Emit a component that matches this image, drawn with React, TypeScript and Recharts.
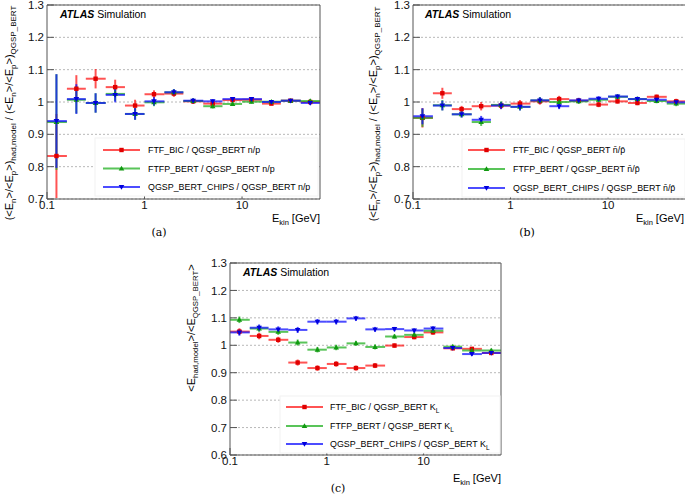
import React from 'react';
import { ScatterChart, Scatter, XAxis, YAxis, CartesianGrid, ErrorBar } from 'recharts';

// ---------- data ----------
const binCenters = [0.125, 0.2, 0.315, 0.5, 0.8, 1.25, 2, 3.15, 5, 8, 12.5, 20, 31.5, 50];
const binLow = [0.1, 0.16, 0.25, 0.4, 0.63, 1, 1.6, 2.5, 4, 6.3, 10, 16, 25, 40];
const binHigh = [0.16, 0.25, 0.4, 0.63, 1, 1.6, 2.5, 4, 6.3, 10, 16, 25, 40, 63];

const xMajorTicks = [0.1, 1, 10];
const xMinorTicks = [0.2, 0.3, 0.4, 0.5, 0.6, 0.7, 0.8, 0.9, 2, 3, 4, 5, 6, 7, 8, 9, 20, 30, 40, 50, 60];
const yTicksAB = [0.7, 0.8, 0.9, 1, 1.1, 1.2, 1.3];
const yTicksC = [0.6, 0.7, 0.8, 0.9, 1, 1.1, 1.2, 1.3];

// panel (a): n/p
const aFtfBic = [0.833, 1.041, 1.072, 1.046, 0.989, 1.024, 1.026, 1.002, 0.995, 1.006, 1.007, 0.995, 1.004, 1.0];
const aFtfBicErr = [0.13, 0.042, 0.03, 0.023, 0.018, 0.012, 0.01, 0.008, 0.007, 0.006, 0.006, 0.005, 0.005, 0.005];
const aFtfp = [0.938, 1.007, 0.997, 1.025, 0.963, 0.999, 1.03, 1.003, 0.987, 0.994, 1.001, 1.001, 1.004, 1.003];
const aFtfpErr = [0.148, 0.042, 0.03, 0.022, 0.018, 0.012, 0.01, 0.008, 0.007, 0.006, 0.006, 0.005, 0.005, 0.006];
const aChips = [0.941, 1.009, 0.997, 1.022, 0.963, 1.002, 1.03, 1.004, 1.002, 1.009, 1.009, 1.0, 1.004, 0.997];
const aChipsErr = [0.145, 0.046, 0.03, 0.023, 0.018, 0.013, 0.01, 0.008, 0.007, 0.006, 0.006, 0.005, 0.005, 0.006];

// panel (b): nbar/pbar
const bFtfBic = [0.951, 1.027, 0.978, 0.987, 0.989, 0.995, 1.002, 1.009, 1.004, 0.992, 1.002, 0.997, 1.016, 1.002];
const bFtfBicErr = [0.03, 0.017, 0.01, 0.013, 0.011, 0.011, 0.01, 0.01, 0.008, 0.008, 0.007, 0.007, 0.007, 0.008];
const bFtfp = [0.951, 0.99, 0.962, 0.938, 0.991, 0.985, 1.005, 1.0, 1.002, 1.007, 1.016, 1.009, 1.003, 0.995];
const bFtfpErr = [0.028, 0.016, 0.01, 0.012, 0.011, 0.011, 0.01, 0.01, 0.008, 0.008, 0.007, 0.007, 0.007, 0.008];
const bChips = [0.956, 0.989, 0.962, 0.945, 0.989, 0.985, 1.005, 0.987, 1.005, 1.01, 1.017, 1.009, 1.007, 0.999];
const bChipsErr = [0.025, 0.015, 0.01, 0.012, 0.011, 0.011, 0.01, 0.009, 0.008, 0.008, 0.007, 0.007, 0.007, 0.008];

// panel (c): K_L
const cFtfBic = [1.05, 1.034, 1.02, 0.937, 0.917, 0.932, 0.917, 0.926, 0.999, 1.03, 1.047, 0.989, 0.987, 0.972];
const cFtfp = [1.093, 1.061, 1.049, 1.01, 0.984, 0.992, 1.007, 0.994, 1.032, 1.038, 1.053, 0.995, 0.981, 0.981];
const cChips = [1.047, 1.064, 1.058, 1.056, 1.086, 1.086, 1.098, 1.058, 1.059, 1.054, 1.061, 0.99, 0.968, 0.972];
const cErr = [0.012, 0.012, 0.011, 0.011, 0.01, 0.01, 0.009, 0.009, 0.008, 0.008, 0.008, 0.007, 0.007, 0.007];

const namesNP = ['FTF_BIC / QGSP_BERT n/p', 'FTFP_BERT / QGSP_BERT n/p', 'QGSP_BERT_CHIPS / QGSP_BERT n/p'];
const namesNbPb = ['FTF_BIC / QGSP_BERT n\u0304/p\u0304', 'FTFP_BERT / QGSP_BERT n\u0304/p\u0304', 'QGSP_BERT_CHIPS / QGSP_BERT n\u0304/p\u0304'];
const namesKL = ['FTF_BIC / QGSP_BERT K', 'FTFP_BERT / QGSP_BERT K', 'QGSP_BERT_CHIPS / QGSP_BERT K'];

const colors = ['#ff1a1a', '#22b022', '#1010ff'];
const markerColors = ['#e00000', '#119911', '#0000dd'];
const FRAME = '#555';
const FONT = '"Liberation Sans", Arial, Helvetica, sans-serif';

const minorTicks = (lo: number, hi: number) => {
  const n = Math.round((hi - lo) / 0.02);
  return Array.from({ length: n + 1 }, (_, i) => +(lo + i * 0.02).toFixed(2));
};

const buildRows = (vals: number[], errs: number[]) =>
  binCenters.map((x, i) => ({
    x,
    y: vals[i],
    ex: [x - binLow[i], binHigh[i] - x],
    ey: errs[i],
  }));

const shapes = [
  (c: string) => (p: any) => <rect x={p.cx - 2.2} y={p.cy - 2.2} width={4.4} height={4.4} fill={c} />,
  (c: string) => (p: any) => (
    <polygon points={`${p.cx},${p.cy - 2.8} ${p.cx + 2.8},${p.cy + 2} ${p.cx - 2.8},${p.cy + 2}`} fill={c} />
  ),
  (c: string) => (p: any) => (
    <polygon points={`${p.cx},${p.cy + 2.8} ${p.cx + 2.8},${p.cy - 2} ${p.cx - 2.8},${p.cy - 2}`} fill={c} />
  ),
];

type PanelProps = {
  left: number;
  top: number;
  width: number;
  height: number;
  marginRight: number;
  xAxisHeight: number;
  yDomain: [number, number];
  yTicks: number[];
  series: { vals: number[]; errs: number[] }[];
};

function Panel({ left, top, width, height, marginRight, xAxisHeight, yDomain, yTicks, series }: PanelProps) {
  const yMinor = minorTicks(yDomain[0], yDomain[1]);
  const tickStyle = { fontSize: 11.5, fill: '#111', fontFamily: FONT };
  return (
    <div style={{ position: 'absolute', left, top }}>
      <ScatterChart width={width} height={height} margin={{ top: 5, right: marginRight, bottom: 0, left: 0 }}>
        <CartesianGrid xAxisId="main" yAxisId="main" vertical={false} stroke="#b8b8b8" strokeDasharray="2 2" />
        <XAxis
          xAxisId="main"
          type="number"
          dataKey="x"
          scale="log"
          domain={[0.1, 63]}
          allowDataOverflow
          ticks={xMajorTicks}
          tickFormatter={(v: number) => String(v)}
          height={xAxisHeight}
          tickSize={-7}
          tickMargin={9}
          tick={tickStyle}
          stroke={FRAME}
          axisLine={{ stroke: FRAME }}
          tickLine={{ stroke: FRAME }}
        />
        <XAxis xAxisId="minB" type="number" dataKey="x" scale="log" domain={[0.1, 63]} allowDataOverflow ticks={xMinorTicks} mirror height={1} tickSize={4} tick={false} axisLine={false} tickLine={{ stroke: FRAME }} />
        <XAxis xAxisId="majT" orientation="top" type="number" dataKey="x" scale="log" domain={[0.1, 63]} allowDataOverflow ticks={xMajorTicks} mirror height={1} tickSize={7} tick={false} axisLine={{ stroke: FRAME }} tickLine={{ stroke: FRAME }} />
        <XAxis xAxisId="minT" orientation="top" type="number" dataKey="x" scale="log" domain={[0.1, 63]} allowDataOverflow ticks={xMinorTicks} mirror height={1} tickSize={4} tick={false} axisLine={false} tickLine={{ stroke: FRAME }} />
        <YAxis
          yAxisId="main"
          type="number"
          dataKey="y"
          domain={yDomain}
          allowDataOverflow
          ticks={yTicks}
          interval={0}
          width={47}
          tickSize={-7}
          tickMargin={10}
          tick={tickStyle}
          axisLine={{ stroke: FRAME }}
          tickLine={{ stroke: FRAME }}
        />
        <YAxis yAxisId="minL" type="number" dataKey="y" domain={yDomain} allowDataOverflow ticks={yMinor} interval={0} mirror width={1} tickSize={3.5} tick={false} axisLine={false} tickLine={{ stroke: FRAME }} />
        <YAxis yAxisId="majR" orientation="right" type="number" dataKey="y" domain={yDomain} allowDataOverflow ticks={yTicks} interval={0} mirror width={1} tickSize={7} tick={false} axisLine={{ stroke: FRAME }} tickLine={{ stroke: FRAME }} />
        <YAxis yAxisId="minR" orientation="right" type="number" dataKey="y" domain={yDomain} allowDataOverflow ticks={yMinor} interval={0} mirror width={1} tickSize={3.5} tick={false} axisLine={false} tickLine={{ stroke: FRAME }} />
        {series.map((s, i) => (
          <Scatter
            key={i}
            xAxisId="main"
            yAxisId="main"
            data={buildRows(s.vals, s.errs)}
            isAnimationActive={false}
            shape={shapes[i](markerColors[i])}
          >
            <ErrorBar dataKey="ex" direction="x" width={0} stroke={colors[i]} strokeOpacity={0.75} strokeWidth={2} isAnimationActive={false} />
            <ErrorBar dataKey="ey" direction="y" width={0} stroke={colors[i]} strokeOpacity={0.75} strokeWidth={2} isAnimationActive={false} />
          </Scatter>
        ))}
      </ScatterChart>
    </div>
  );
}

const SUB = 8;
const D = 3;

function YLabelRatio({ x, y }: { x: number; y: number }) {
  return (
    <text transform={`translate(${x},${y}) rotate(-90)`} textAnchor="middle" fontSize={11} fill="#000">
      <tspan>{'(<E'}</tspan>
      <tspan fontSize={SUB} dy={D}>n</tspan>
      <tspan dy={-D}>{'>/<E'}</tspan>
      <tspan fontSize={SUB} dy={D}>p</tspan>
      <tspan dy={-D}>{'>)'}</tspan>
      <tspan fontSize={SUB} dy={D}>had,model</tspan>
      <tspan dy={-D}>{' / (<E'}</tspan>
      <tspan fontSize={SUB} dy={D}>n</tspan>
      <tspan dy={-D}>{'>/<E'}</tspan>
      <tspan fontSize={SUB} dy={D}>p</tspan>
      <tspan dy={-D}>{'>)'}</tspan>
      <tspan fontSize={SUB} dy={D}>QGSP_BERT</tspan>
    </text>
  );
}

function YLabelKL({ x, y }: { x: number; y: number }) {
  return (
    <text transform={`translate(${x},${y}) rotate(-90)`} textAnchor="middle" fontSize={11} fill="#000">
      <tspan>{'<E'}</tspan>
      <tspan fontSize={7.8} dy={D}>had,model</tspan>
      <tspan dy={-D}>{'>/<E'}</tspan>
      <tspan fontSize={7.8} dy={D}>QGSP_BERT</tspan>
      <tspan dy={-D}>{'>'}</tspan>
    </text>
  );
}

function XLabel({ x, y }: { x: number; y: number }) {
  return (
    <text x={x} y={y} textAnchor="end" fontSize={11} fill="#000">
      E<tspan fontSize={7.5} dy={2.5}>kin</tspan>
      <tspan dy={-2.5}> [GeV]</tspan>
    </text>
  );
}

function Atlas({ x, y }: { x: number; y: number }) {
  return (
    <text x={x} y={y} fontSize={10.5} fill="#000">
      <tspan fontWeight="bold" fontStyle="italic">ATLAS</tspan>
      <tspan> Simulation</tspan>
    </text>
  );
}

function LegendBox({
  box,
  lineX,
  textX,
  rows,
  names,
  subL,
}: {
  box: [number, number, number, number];
  lineX: [number, number];
  textX: number;
  rows: number[];
  names: string[];
  subL?: boolean;
}) {
  return (
    <g>
      <rect x={box[0]} y={box[1]} width={box[2]} height={box[3]} fill="#fff" stroke="#f2f2f2" />
      {names.map((n, i) => {
        const y = rows[i];
        const mx = (lineX[0] + lineX[1]) / 2;
        return (
          <g key={i}>
            <line x1={lineX[0]} x2={lineX[1]} y1={y} y2={y} stroke={colors[i]} strokeOpacity={0.75} strokeWidth={2} />
            {shapes[i](markerColors[i])({ cx: mx, cy: y })}
            <text x={textX} y={y + 3} fontSize={8.9} fill="#000">
              {n}
              {subL ? (
                <tspan fontSize={6.5} dy={2.5}>L</tspan>
              ) : null}
            </text>
          </g>
        );
      })}
    </g>
  );
}

export default function App() {
  return (
    <div
      style={{
        position: 'relative',
        width: 685,
        height: 495,
        overflow: 'hidden',
        background: '#fff',
        fontFamily: FONT,
      }}
    >
      <style>{'body{margin:0}'}</style>
      <Panel
        left={0}
        top={0}
        width={330}
        height={240}
        marginRight={10}
        xAxisHeight={41}
        yDomain={[0.7, 1.3]}
        yTicks={yTicksAB}
        series={[
          { vals: aFtfBic, errs: aFtfBicErr },
          { vals: aFtfp, errs: aFtfpErr },
          { vals: aChips, errs: aChipsErr },
        ]}
      />
      <Panel
        left={366}
        top={0}
        width={330}
        height={240}
        marginRight={10}
        xAxisHeight={41}
        yDomain={[0.7, 1.3]}
        yTicks={yTicksAB}
        series={[
          { vals: bFtfBic, errs: bFtfBicErr },
          { vals: bFtfp, errs: bFtfpErr },
          { vals: bChips, errs: bChipsErr },
        ]}
      />
      <Panel
        left={183}
        top={258}
        width={330}
        height={227}
        marginRight={12}
        xAxisHeight={30}
        yDomain={[0.6, 1.3]}
        yTicks={yTicksC}
        series={[
          { vals: cFtfBic, errs: cErr },
          { vals: cFtfp, errs: cErr },
          { vals: cChips, errs: cErr },
        ]}
      />
      <svg
        width={685}
        height={495}
        style={{ position: 'absolute', left: 0, top: 0, pointerEvents: 'none', fontFamily: FONT }}
      >
        <Atlas x={60} y={18} />
        <Atlas x={425} y={18} />
        <Atlas x={243} y={276} />

        <YLabelRatio x={13} y={113} />
        <YLabelRatio x={377} y={114} />
        <YLabelKL x={195} y={328} />

        <XLabel x={320} y={222} />
        <XLabel x={684} y={222} />
        <XLabel x={501} y={482} />

        <LegendBox box={[95, 138, 223, 58]} lineX={[103, 140]} textX={148} rows={[150, 168.5, 187]} names={namesNP} />
        <LegendBox box={[462, 139, 223, 58]} lineX={[468, 505]} textX={513} rows={[150, 169, 188]} names={namesNbPb} />
        <LegendBox box={[280, 396, 220, 57]} lineX={[286, 323]} textX={330} rows={[407, 426, 444]} names={namesKL} subL />

        <text x={159} y={236} textAnchor="middle" fontSize={11} fontFamily='"DejaVu Serif", "Liberation Serif", serif'>(a)</text>
        <text x={527} y={236} textAnchor="middle" fontSize={11} fontFamily='"DejaVu Serif", "Liberation Serif", serif'>(b)</text>
        <text x={338} y={492} textAnchor="middle" fontSize={11} fontFamily='"DejaVu Serif", "Liberation Serif", serif'>(c)</text>
      </svg>
    </div>
  );
}
